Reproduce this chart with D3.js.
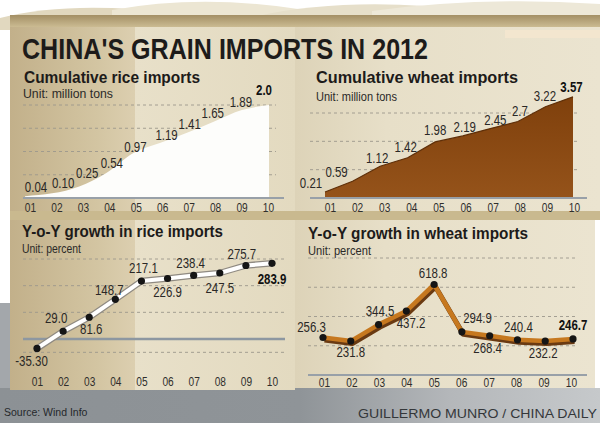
<!DOCTYPE html>
<html><head><meta charset="utf-8">
<script src="https://cdn.jsdelivr.net/npm/d3@7"></script>
<style>html,body{margin:0;padding:0;background:#fff;} svg{display:block}</style>
</head><body>
<svg id="c" width="600" height="423"></svg>
<script>
// ---------- DATA ----------
const months = ["01","02","03","04","05","06","07","08","09","10"];
const riceCumulative = [0.04,0.10,0.25,0.54,0.97,1.19,1.41,1.65,1.89,2.0];
const riceCumLabels  = ["0.04","0.10","0.25","0.54","0.97","1.19","1.41","1.65","1.89","2.0"];
const wheatCumulative = [0.21,0.59,1.12,1.42,1.98,2.19,2.45,2.7,3.22,3.57];
const wheatCumLabels  = ["0.21","0.59","1.12","1.42","1.98","2.19","2.45","2.7","3.22","3.57"];
const riceGrowth = [-35.30,29.0,81.6,148.7,217.1,226.9,238.4,247.5,275.7,283.9];
const riceGrowthLabels = ["-35.30","29.0","81.6","148.7","217.1","226.9","238.4","247.5","275.7","283.9"];
const wheatGrowth = [256.3,231.8,344.5,437.2,618.8,294.9,268.4,240.4,232.2,246.7];
const wheatGrowthLabels = ["256.3","231.8","344.5","437.2","618.8","294.9","268.4","240.4","232.2","246.7"];
const riceCumGrid = [0.5,1,1.5,2];
const wheatCumGrid = [1,2,3];
const riceGrowthGrid = [-50,100,200,300];
const wheatGrowthGrid = [200,400,600,800];

const mainTitle = "CHINA'S GRAIN IMPORTS IN 2012";
const panelTitles = ["Cumulative rice imports","Cumulative wheat imports","Y-o-Y growth in rice imports","Y-o-Y growth in wheat imports"];
const unitTexts = ["Unit: million tons","Unit: million tons","Unit: percent","Unit: percent"];
const sourceText = "Source: Wind Info";
const creditText = "GUILLERMO MUNRO / CHINA DAILY";

// ---------- DRAW ----------
const svg = d3.select("#c");
const defs = svg.append("defs");
function grad(id, stops, vertical){
  const g = defs.append("linearGradient").attr("id", id)
    .attr("x1",0).attr("y1",0).attr("x2", vertical?0:1).attr("y2", vertical?1:0);
  stops.forEach(s => g.append("stop").attr("offset", s[0]).attr("stop-color", s[1]));
}
grad("leftShade", [[0,"#c2b08a"],[0.7,"#d3c5a2"],[1,"#dccfb0"]]);
grad("midShade", [[0,"#e8e0c9"],[1,"#e3dac0"]]);
grad("rightShade", [[0,"#ddd3b8"],[0.3,"#e7dfc8"],[1,"#ebe4d0"]]);
grad("tanBand", [[0,"#a38f65"],[1,"#cbbb92"]], true);
grad("bottomGray", [[0,"#8c9195"],[0.5,"#8f9498"],[0.75,"#b4b7ba"],[1,"#c6c9cb"]]);
grad("wheatFill", [[0,"#7f400c"],[1,"#95531a"]], true);

const bg = svg.append("g");
bg.append("rect").attr("width",600).attr("height",423).attr("fill","#fff");
bg.append("rect").attr("x",0).attr("y",303).attr("width",12).attr("height",90).attr("fill","#a3a7ab");
bg.append("rect").attr("x",0).attr("y",388).attr("width",600).attr("height",35).attr("fill","url(#bottomGray)");
const tops = [
  ["M0,18 Q55,4 132,9 L132,30 L0,30 Z","#e1d8bf"],
  ["M112,10 Q200,-6 298,9 L298,30 L112,30 Z","#ece6d3"],
  ["M258,16 Q330,0 425,6 L425,30 L258,30 Z","#e6dfca"],
  ["M372,11 Q480,-4 600,4 L600,30 L372,30 Z","#ede8d8"]
];
tops.forEach(t => bg.append("path").attr("d",t[0]).attr("fill",t[1]));
bg.append("rect").attr("x",10).attr("y",15).attr("width",590).attr("height",12).attr("fill","url(#tanBand)");
bg.append("rect").attr("x",10).attr("y",27).attr("width",125).attr("height",185).attr("fill","url(#leftShade)");
bg.append("rect").attr("x",135).attr("y",27).attr("width",160).attr("height",185).attr("fill","url(#midShade)");
bg.append("rect").attr("x",295).attr("y",27).attr("width",305).attr("height",185).attr("fill","url(#rightShade)");
bg.append("rect").attr("x",505).attr("y",30).attr("width",95).attr("height",8).attr("fill","#f3e6cf");
bg.append("rect").attr("x",10).attr("y",211).attr("width",590).attr("height",9).attr("fill","#c9b98f");
bg.append("rect").attr("x",10).attr("y",220).attr("width",125).attr("height",170).attr("fill","url(#leftShade)");
bg.append("rect").attr("x",135).attr("y",220).attr("width",160).attr("height",170).attr("fill","url(#midShade)");
bg.append("rect").attr("x",295).attr("y",220).attr("width",300).attr("height",168).attr("fill","url(#rightShade)");

// ---------- TEXT ----------
const sans = "'Liberation Sans',Arial,sans-serif";
function squeeze(sel, f){
  sel.each(function(){
    const w = this.getComputedTextLength();
    d3.select(this).attr("textLength", w*f).attr("lengthAdjust","spacingAndGlyphs");
  });
  return sel;
}
svg.append("text").attr("x",22).attr("y",58.5).text(mainTitle)
  .attr("font-family",sans).attr("font-weight","bold").attr("font-size",30)
  .attr("fill","#1d1b1a").attr("textLength",406).attr("lengthAdjust","spacingAndGlyphs");

const titlePos = [[24,83,176],[316,83,202],[22,237,201],[308,239,220]];
const unitPos  = [[23,98,90],[316,101,81],[22,253,59],[308,255,63]];
panelTitles.forEach((t,i) => {
  svg.append("text").attr("x",titlePos[i][0]).attr("y",titlePos[i][1]).text(t)
    .attr("font-family",sans).attr("font-weight","bold").attr("font-size",16)
    .attr("fill","#1d1b1a").attr("textLength",titlePos[i][2]).attr("lengthAdjust","spacingAndGlyphs");
  svg.append("text").attr("x",unitPos[i][0]).attr("y",unitPos[i][1]).text(unitTexts[i])
    .attr("font-family",sans).attr("font-size",12.5)
    .attr("fill","#2b2a28").attr("textLength",unitPos[i][2]).attr("lengthAdjust","spacingAndGlyphs");
});
svg.append("text").attr("x",4).attr("y",416).text(sourceText)
  .attr("font-family",sans).attr("font-size",10.5).attr("fill","#25282b");
svg.append("text").attr("x",597).attr("y",418).attr("text-anchor","end").text(creditText)
  .attr("font-family",sans).attr("font-size",13).attr("fill","#34373a")
  .attr("textLength",239).attr("lengthAdjust","spacingAndGlyphs");

// ---------- helpers ----------
function gridLines(g, y, vals, x0, x1){
  g.selectAll(null).data(vals).join("line")
    .attr("x1",x0).attr("x2",x1).attr("y1",d=>y(d)).attr("y2",d=>y(d))
    .attr("stroke","#9c978c").attr("stroke-width",0.9).attr("stroke-dasharray","3,3");
}
function monthAxis(g, x, yPos){
  const ax = d3.axisBottom(x).tickSize(0).tickPadding(0);
  const a = g.append("g").attr("transform",`translate(0,${yPos})`).call(ax);
  a.select(".domain").remove();
  const t = a.selectAll("text").attr("font-family",sans).attr("font-size",13)
    .attr("fill","#2f2e2c").attr("dy","0.71em");
  squeeze(t, 0.78);
}
function valueLabels(g, x, y, vals, labels, offs){
  const t = g.selectAll(null).data(vals).join("text")
    .attr("x",(d,i)=>x(months[i])+offs[i][0])
    .attr("y",(d,i)=>y(d)+offs[i][1])
    .attr("text-anchor","middle")
    .attr("font-family",sans)
    .attr("font-size",15.5)
    .attr("font-weight",(d,i)=> i===vals.length-1 ? "bold":"normal")
    .attr("fill",(d,i)=> i===vals.length-1 ? "#111":"#2a2826")
    .text((d,i)=>labels[i]);
  squeeze(t, 0.74);
}

// ---------- Panel 1: cumulative rice ----------
{
  const g = svg.append("g");
  const x = d3.scalePoint().domain(months).range([25,269]);
  const y = d3.scaleLinear().domain([0,2]).range([198,105]);
  gridLines(g, y, riceCumGrid, 23, 276);
  const area = d3.area().x((d,i)=>x(months[i])).y0(y(0)).y1(d=>y(d)).curve(d3.curveMonotoneX);
  g.append("path").datum(riceCumulative).attr("d",area).attr("fill","#fdfdfb");
  g.append("line").attr("x1",23).attr("x2",284).attr("y1",y(0)).attr("y2",y(0))
    .attr("stroke","#98a0a8").attr("stroke-width",2);
  const axX = d3.scalePoint().domain(months).range([30,268]);
  monthAxis(g, axX, 203);
  const offs = [[11,-4],[11,-5],[8,-8],[5.5,-5],[2,-1],[6,-3],[2,-3],[-2,-3],[-1,-3],[-5,-10]];
  valueLabels(g, x, y, riceCumulative, riceCumLabels, offs);
}

// ---------- Panel 2: cumulative wheat ----------
{
  const g = svg.append("g");
  const x = d3.scalePoint().domain(months).range([325,573]);
  const y = d3.scaleLinear().domain([0,3]).range([198,113]);
  gridLines(g, y, wheatCumGrid, 310, 578);
  const area = d3.area().x((d,i)=>x(months[i])).y0(y(0)).y1(d=>y(d)).curve(d3.curveLinear);
  g.append("path").datum(wheatCumulative).attr("d",area).attr("fill","url(#wheatFill)");
  const line = d3.line().x((d,i)=>x(months[i])).y(d=>y(d));
  g.append("path").datum(wheatCumulative).attr("d",line).attr("fill","none").attr("stroke","#5f2f08").attr("stroke-width",1.2);
  g.append("line").attr("x1",310).attr("x2",587).attr("y1",y(0)).attr("y2",y(0))
    .attr("stroke","#98a0a8").attr("stroke-width",2);
  const axX = d3.scalePoint().domain(months).range([330,574]);
  monthAxis(g, axX, 203);
  const offs = [[-14,-4],[-16,-4],[-3,-3],[-2,-6],[0,-7],[2,-4],[5,-4],[2,-6],[-0.5,-6],[-1.5,-5]];
  valueLabels(g, x, y, wheatCumulative, wheatCumLabels, offs);
}

// ---------- Panel 3: rice growth ----------
{
  const g = svg.append("g");
  const x = d3.scalePoint().domain(months).range([37,272]);
  const y = d3.scaleLinear().domain([0,300]).range([339,259]);
  gridLines(g, y, riceGrowthGrid, 23, 284);
  g.append("line").attr("x1",23).attr("x2",285).attr("y1",y(0)).attr("y2",y(0))
    .attr("stroke","#8d97a1").attr("stroke-width",2.5);
  const line = d3.line().x((d,i)=>x(months[i])).y(d=>y(d));
  g.append("path").datum(riceGrowth).attr("d",line).attr("fill","none")
    .attr("stroke","#8f8a82").attr("stroke-width",6.5).attr("stroke-linejoin","round");
  g.append("path").datum(riceGrowth).attr("d",line).attr("fill","none")
    .attr("stroke","#ffffff").attr("stroke-width",4).attr("stroke-linejoin","round");
  g.selectAll(null).data(riceGrowth).join("circle")
    .attr("cx",(d,i)=>x(months[i])).attr("cy",d=>y(d)).attr("r",3.6).attr("fill","#151515");
  monthAxis(g, x, 377);
  const offs = [[-5.5,17.6],[-7,-8.3],[2,17],[-6,-4.3],[2,-8],[0,18.5],[-3,-7.4],[0,20],[-4,-6.5],[0,20.7]];
  valueLabels(g, x, y, riceGrowth, riceGrowthLabels, offs);
}

// ---------- Panel 4: wheat growth ----------
{
  const g = svg.append("g");
  const x = d3.scalePoint().domain(months).range([323,573]);
  const y = d3.scaleLinear().domain([0,800]).range([375,258]);
  gridLines(g, y, wheatGrowthGrid, 308, 578);
  g.append("line").attr("x1",308).attr("x2",587).attr("y1",y(0)).attr("y2",y(0))
    .attr("stroke","#98a0a8").attr("stroke-width",2);
  const line = d3.line().x((d,i)=>x(months[i])).y(d=>y(d));
  g.append("path").datum(wheatGrowth).attr("d",line).attr("fill","none")
    .attr("transform","translate(1.5,2.5)")
    .attr("stroke","#6a3a12").attr("stroke-width",5).attr("stroke-linejoin","round");
  g.append("path").datum(wheatGrowth).attr("d",line).attr("fill","none")
    .attr("stroke","#c6781f").attr("stroke-width",4.5).attr("stroke-linejoin","round");
  g.selectAll(null).data(wheatGrowth).join("circle")
    .attr("cx",(d,i)=>x(months[i])).attr("cy",d=>y(d)).attr("r",3.6).attr("fill","#151515");
  const axX = d3.scalePoint().domain(months).range([324,571]);
  monthAxis(g, axX, 378);
  const offs = [[-11.5,-5.5],[0,16],[1.5,-8.6],[4.7,17],[-1,-6.5],[15.6,-9],[-2,17.3],[1,-7.8],[-2,17],[0,-9]];
  valueLabels(g, x, y, wheatGrowth, wheatGrowthLabels, offs);
}
</script>
</body></html>
